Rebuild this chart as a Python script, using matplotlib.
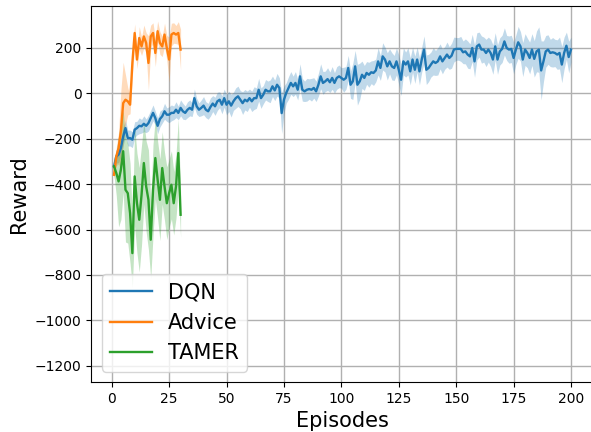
import matplotlib
matplotlib.use("Agg")
import matplotlib.pyplot as plt
import numpy as np

dqn_mean = [
    -322, -278, -270, -241, -190, -153, -197, -197, -204, -160,
    -153, -143, -145, -134, -143, -131, -109, -86, -109, -143,
    -113, -101, -79, -94, -94, -86, -86, -72, -86, -64,
    -79, -86, -72, -64, -72, -21, -57, -72, -64, -54,
    -72, -79, -60, -45, -57, -35, -28, -50, -21, -50,
    -35, -54, -35, -21, -13, -28, -43, -28, -35, -21,
    -35, -21, -21, 16, -21, -6, 16, 9, 9, 31,
    13, 38, 24, -87, -28, 2, 24, 46, 31, 46,
    16, 75, 16, 9, 16, 19, 16, 24, 9, 38,
    75, 46, 53, 63, 49, 68, 46, 68, 75, 68,
    60, 68, 112, 38, 53, 119, 38, 53, 82, 68,
    90, 82, 93, 90, 101, 141, 112, 163, 149, 119,
    141, 119, 112, 141, 104, 60, 141, 127, 141, 97,
    149, 104, 149, 97, 149, 193, 104, 112, 127, 141,
    134, 141, 163, 141, 156, 171, 156, 166, 193, 196,
    196, 196, 181, 185, 171, 163, 200, 141, 207, 215,
    193, 193, 178, 193, 178, 149, 207, 149, 185, 196,
    229, 200, 193, 196, 156, 193, 225, 207, 149, 193,
    178, 156, 193, 152, 185, 193, 101, 141, 185, 193,
    178, 181, 178, 171, 178, 127, 178, 210, 160, 193,
]
dqn_spread = [
    20, 30, 35, 40, 40, 35, 35, 35, 35, 35,
    30, 35, 30, 35, 30, 35, 35, 35, 30, 35,
    35, 30, 35, 30, 35, 35, 30, 35, 30, 35,
    35, 30, 35, 35, 30, 40, 35, 30, 35, 40,
    35, 35, 40, 35, 40, 40, 35, 40, 40, 45,
    45, 50, 40, 45, 45, 40, 50, 45, 45, 40,
    45, 50, 45, 50, 45, 40, 45, 45, 50, 45,
    45, 50, 45, 90, 60, 45, 50, 50, 45, 50,
    45, 55, 50, 45, 50, 45, 50, 45, 45, 50,
    55, 50, 45, 50, 45, 50, 45, 50, 50, 45,
    55, 50, 55, 60, 80, 70, 90, 80, 60, 55,
    50, 55, 50, 55, 50, 60, 55, 60, 55, 60,
    55, 60, 55, 60, 65, 70, 60, 55, 60, 60,
    55, 60, 55, 60, 55, 60, 65, 60, 55, 60,
    55, 60, 55, 55, 50, 55, 50, 55, 55, 50,
    50, 55, 50, 55, 60, 55, 60, 70, 60, 55,
    60, 55, 60, 55, 60, 65, 60, 65, 60, 60,
    60, 55, 60, 60, 70, 65, 70, 65, 75, 70,
    65, 70, 70, 80, 90, 100, 130, 90, 70, 65,
    60, 65, 60, 65, 70, 80, 70, 60, 70, 55,
]

advice_mean = [
    -359, -278, -241, -167, -43, -28, -35, -50, 134, 266,
    149, 244, 207, 251, 222, 134, 251, 266, 178, 274,
    222, 207, 259, 200, 149, 259, 266, 259, 266, 193,
]
advice_spread = [
    20, 40, 70, 180, 180, 110, 60, 40, 60, 40,
    40, 50, 40, 50, 45, 120, 50, 45, 60, 45,
    50, 45, 50, 55, 100, 50, 45, 40, 50, 90,
]

tamer_mean = [
    -322, -351, -388, -336, -255, -425, -440, -528, -704, -366,
    -484, -557, -447, -307, -410, -469, -645, -425, -285, -381,
    -469, -329, -410, -484, -440, -403, -484, -410, -263, -535,
]
tamer_spread = [
    40, 100, 200, 220, 180, 230, 220, 220, 150, 220,
    220, 230, 220, 180, 200, 220, 170, 200, 180, 170,
    180, 160, 150, 160, 150, 150, 140, 140, 150, 100,
]

series = [
    ("DQN", dqn_mean, dqn_spread, "#1f77b4"),
    ("Advice", advice_mean, advice_spread, "#ff7f0e"),
    ("TAMER", tamer_mean, tamer_spread, "#2ca02c"),
]

fig = plt.figure(figsize=(5.91, 4.32), dpi=100)
ax = fig.add_axes([91.15 / 591, 1 - 382 / 432, 502.7 / 591, 376 / 432])

for name, mean, spread, color in series:
    m = np.array(mean, dtype=float)
    s = np.array(spread, dtype=float)
    x = np.arange(1, len(m) + 1)
    ax.plot(x, m, color=color, lw=1.7, label=name)
    ax.fill_between(x, m - s, m + s, color=color, alpha=0.28, lw=0)

ax.set_xlim(-8.95, 209.95)
ax.set_ylim(-1272, 385)
ax.set_xticks(np.arange(0, 201, 25))
ax.set_yticks(np.arange(-1200, 201, 200))
ax.tick_params(labelsize=10)
ax.grid(True, color="#b0b0b0", lw=1)
ax.set_axisbelow(True)
ax.set_xlabel("Episodes", fontsize=15)
ax.set_ylabel("Reward", fontsize=15)
ax.legend(loc="lower left", fontsize=15)

fig.savefig("out.png", dpi=100)
